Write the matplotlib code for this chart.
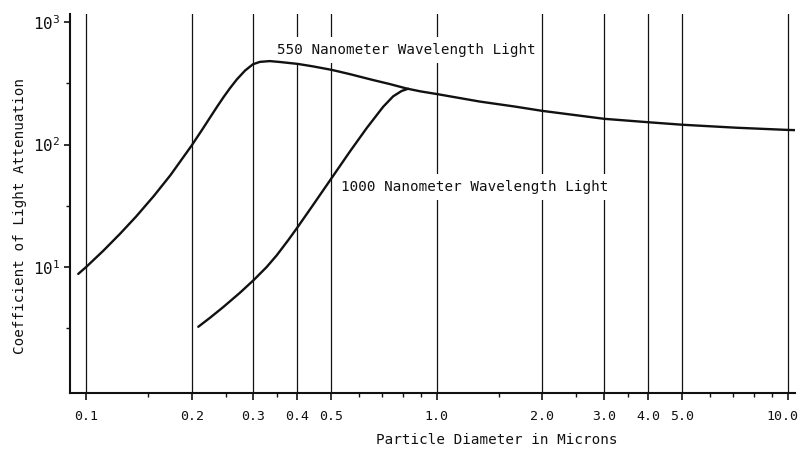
import matplotlib
matplotlib.use("Agg")
from matplotlib import pyplot as plt
from matplotlib.ticker import FixedLocator, FixedFormatter, NullFormatter
from matplotlib.transforms import ScaledTranslation

# attenuation curves, diameter (microns) vs coefficient
d_550 = [0.095, 0.10, 0.112, 0.125, 0.139, 0.156, 0.174, 0.20, 0.215, 0.226, 0.236, 0.246,
         0.257, 0.269, 0.284, 0.299, 0.313, 0.334, 0.357, 0.402, 0.443, 0.502, 0.565,
         0.657, 0.735, 0.821, 0.90, 1.0, 1.326, 1.668, 2.0, 3.0, 4.0, 5.0, 7.16, 10.0, 10.5]
c_550 = [8.8, 10.0, 13.6, 18.7, 25.9, 38.0, 56.2, 98.1, 134.0, 167.0, 202.0, 241.0,
         287.0, 339.0, 401.0, 451.0, 472.0, 479.0, 471.0, 454.0, 434.0, 406.0, 375.0,
         336.0, 311.0, 286.0, 271.0, 258.0, 224.0, 204.0, 188.0, 162.0, 152.0, 145.0,
         137.0, 131.5, 131.0]

d_1000 = [0.2089, 0.2256, 0.2461, 0.2747, 0.3011, 0.3271, 0.3494, 0.3771, 0.4025, 0.4441,
          0.5012, 0.5652, 0.6305, 0.7031, 0.7507, 0.7932, 0.8283]
c_1000 = [3.26, 3.86, 4.72, 6.18, 7.88, 10.0, 12.45, 16.6, 21.5, 32.2,
          53.2, 87.6, 135.6, 203.0, 247.0, 273.0, 285.0]

major_x = [0.1, 0.2, 0.3, 0.4, 0.5, 1.0, 2.0, 3.0, 4.0, 5.0, 10.0]
major_x_labels = ['0.1', '0.2', '0.3', '0.4', '0.5', '1.0', '2.0', '3.0', '4.0', '5.0', '10.0']
minor_x = [0.15, 0.25, 0.35, 0.6, 0.7, 0.8, 0.9, 1.5, 2.5, 3.5, 6.0, 7.0, 8.0, 9.0]
major_y = [10, 100, 1000]
minor_y = [10 ** 0.5, 10 ** 1.5, 10 ** 2.5]

plt.rcParams['font.family'] = ['DejaVu Sans Mono']
ink = '#111111'

fig = plt.figure(figsize=(8, 4.49), dpi=100)
ax = fig.add_axes([70 / 800, 1 - 393 / 449, 725 / 800, 379 / 449])

ax.set_xscale('log')
ax.set_yscale('log')
ax.set_xlim(0.09, 10.5)
ax.set_ylim(0.94, 1160)

# vertical rules at every labelled diameter
for xv in major_x:
    ax.axvline(xv, color=ink, lw=0.9, zorder=1)

ax.plot(d_550, c_550, color=ink, lw=1.7, zorder=5, solid_capstyle='round',
        solid_joinstyle='round')
ax.plot(d_1000, c_1000, color=ink, lw=1.7, zorder=5, solid_capstyle='round',
        solid_joinstyle='round')

box = dict(facecolor='white', edgecolor='none', pad=4)
ax.text(0.35, 590, '550 Nanometer Wavelength Light', fontsize=10.3, ha='left',
        va='center', color=ink, bbox=box, zorder=3)
ax.text(0.533, 45, '1000 Nanometer Wavelength Light', fontsize=10.3, ha='left',
        va='center', color=ink, bbox=box, zorder=3)

ax.xaxis.set_major_locator(FixedLocator(major_x))
ax.xaxis.set_major_formatter(FixedFormatter(major_x_labels))
ax.xaxis.set_minor_locator(FixedLocator(minor_x))
ax.xaxis.set_minor_formatter(NullFormatter())
ax.yaxis.set_major_locator(FixedLocator(major_y))
ax.yaxis.set_minor_locator(FixedLocator(minor_y))
ax.yaxis.set_minor_formatter(NullFormatter())

ax.tick_params(axis='x', which='major', direction='out', length=5, width=1.2,
               pad=7, labelsize=9.5, colors=ink)
ax.tick_params(axis='x', which='minor', direction='out', length=3, width=1.0, colors=ink)
ax.tick_params(axis='y', which='major', direction='out', length=4, width=1.2,
               pad=3, labelsize=11.5, colors=ink)
ax.tick_params(axis='y', which='minor', direction='out', length=3, width=1.0, colors=ink)

# keep the last diameter label inside the figure
last = ax.xaxis.get_major_ticks()[-1].label1
last.set_transform(last.get_transform() + ScaledTranslation(-5 / 100, 0, fig.dpi_scale_trans))

for s in ['top', 'right']:
    ax.spines[s].set_visible(False)
for s in ['left', 'bottom']:
    ax.spines[s].set_linewidth(1.5)
    ax.spines[s].set_color(ink)

fig.text(497 / 800, 1 - 440 / 449, 'Particle Diameter in Microns', fontsize=10.3,
         ha='center', va='center', color=ink)
fig.text(20 / 800, 1 - 216 / 449, 'Coefficient of Light Attenuation', fontsize=10.3,
         rotation=90, ha='center', va='center', color=ink)

fig.savefig('out.png', dpi=100, facecolor='white')
